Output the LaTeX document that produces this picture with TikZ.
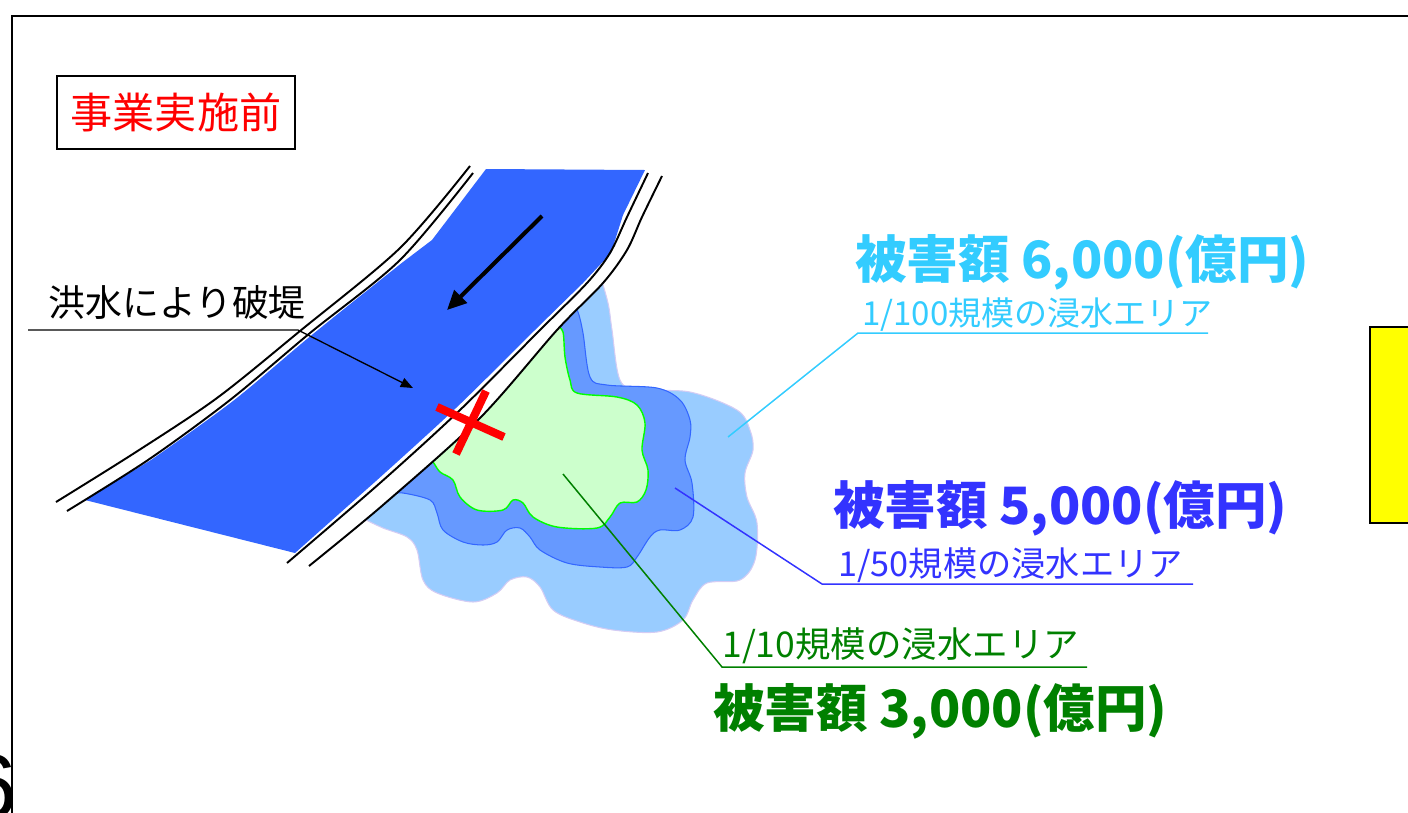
\documentclass[tikz,border=0pt]{standalone}
\usepackage{fontspec}
\setmainfont{Noto Sans CJK JP}
\newfontfamily\numfont{Liberation Sans}
\usetikzlibrary{arrows.meta}

\definecolor{riverblue}{HTML}{3366FF}
\definecolor{floodlight}{HTML}{99CCFF}
\definecolor{floodlightedge}{HTML}{D4CCF4}
\definecolor{floodmid}{HTML}{6699FF}
\definecolor{floodmidedge}{HTML}{3366FF}
\definecolor{floodgreen}{HTML}{CCFFCC}
\definecolor{floodgreenedge}{HTML}{00FF00}
\definecolor{txtcyan}{HTML}{33CCFF}
\definecolor{txtblue}{HTML}{3333FF}
\definecolor{txtgreen}{HTML}{008000}
\definecolor{panelyellow}{HTML}{FFFF00}

\newcommand\dmgfont{\fontsize{29.3}{35}\selectfont\bfseries}
\newcommand\areafont{\fontsize{19.5}{24}\selectfont}

\begin{document}
\begin{tikzpicture}[x=0.02cm,y=-0.02cm,
  bank/.style={line width=1.1pt},
  leader/.style={line width=0.85pt},
  txt/.style={inner sep=0pt, anchor=west},
  crossbar/.style={red, line width=4.6pt}]
\useasboundingbox (0,0) rectangle (1408,812);

% page frame
\draw[line width=1.1pt] (12,830) -- (12,16) -- (1430,16);

% flooded areas, kept on the land side of the right levee
\begin{scope}
  \clip plot[smooth] coordinates {(309,566) (383,505) (480,418) (557,330) (603,283) (627,250) (642,217) (662,176)}
        -- (700,120) -- (1430,120) -- (1430,830) -- (250,830) -- (250,615) -- cycle;
  % 1/100 area
  \filldraw[fill=floodlight, draw=floodlightedge, line width=0.6pt]
    plot[smooth, tension=0.55] coordinates {(598,268) (608,303) (612,330) (620,380) (640,390) (690,392) (737,410)
      (750,430) (753,450) (745,473) (747,497) (757,523) (755,560) (740,580) (707,583) (693,600) (683,620)
      (657,632) (613,630) (580,622) (553,610) (540,587) (527,577) (510,580) (497,593) (473,602) (437,593)
      (423,580) (417,550) (407,537) (383,528) (362,518)}
    -- (330,505) -- (575,262) -- cycle;
  % 1/50 area
  \filldraw[fill=floodmid, draw=floodmidedge, line width=0.6pt]
    plot[smooth, tension=0.55] coordinates {(572,303) (578,312) (583,333) (590,377) (607,385) (657,388) (680,400)
      (690,420) (690,437) (685,460) (692,483) (693,517) (680,530) (660,530) (650,537) (637,557) (627,567)
      (600,567) (567,563) (540,550) (530,537) (520,528) (507,530) (497,542) (483,545) (463,542) (443,530)
      (437,513) (430,500) (403,493) (392,494)}
    -- (375,490) -- (560,295) -- cycle;
  % 1/10 area
  \filldraw[fill=floodgreen, draw=floodgreenedge, line width=0.8pt]
    plot[smooth, tension=0.55] coordinates {(557,326) (563,332) (565,357) (570,380) (577,393) (617,397) (637,405)
      (645,423) (642,450) (648,470) (646,490) (637,502) (620,503) (610,517) (597,528) (557,527) (533,517)
      (523,503) (513,500) (503,510) (477,510) (460,497) (453,480) (440,472) (433,462) (427,458)}
    -- (415,455) -- (548,320) -- cycle;
\end{scope}

% river water
\fill[riverblue] (486,169) -- (645,170) -- (623,215) -- (611,253)
  -- plot[smooth] coordinates {(583,283) (536,329) (456,408) (376,481)}
  -- (295,553) -- (85,500)
  -- plot[smooth] coordinates {(151,460) (233,401) (313,334) (403,262)}
  -- (432,240) -- cycle;

% levees (double lines on both banks)
\draw[bank] plot[smooth] coordinates {(56,502) (136,452) (217,398) (300,331) (400,248) (470,166)};
\draw[bank] plot[smooth] coordinates {(67,511) (148,460) (230,400) (310,333) (400,260) (473,173)};
\draw[bank] plot[smooth] coordinates {(287,563) (380,483) (460,410) (540,330) (587,283) (610,253) (627,217) (648,173)};
\draw[bank] plot[smooth] coordinates {(309,566) (383,505) (480,418) (557,330) (603,283) (627,250) (642,217) (662,176)};

% breach mark
\coordinate (xa1) at (437,407); \coordinate (xa2) at (504,437);
\coordinate (xb1) at (486,391); \coordinate (xb2) at (456,454);
\draw[crossbar] (xa1) -- (xa2);
\draw[crossbar] (xb1) -- (xb2);

% flow direction
\coordinate (flowA) at (542,216);
\coordinate (flowB) at (447,310);
\draw[line width=2.3pt, -{Triangle[length=11pt,width=10pt]}] (flowA) -- (flowB);

% breach label and its leader
\node[txt, font=\fontsize{21}{25}\selectfont] (breach) at (48,302) {洪水により破堤};
\coordinate (brA) at (28,330);
\coordinate (brB) at (298,330);
\coordinate (brC) at (413,388);
\draw[line width=0.75pt, -{Triangle[length=7pt,width=5.5pt]}] (brA) -- (brB) -- (brC);

% title box
\node[draw=black, line width=0.7pt, text=red, minimum width=4.76cm, minimum height=1.46cm,
      inner sep=0pt, font=\fontsize{24}{28}\selectfont] (title) at (176,112.5) {事業実施前};

% 1/100 label
\coordinate (cA) at (728,437);
\coordinate (cB) at (858,333);
\coordinate (cC) at (1208,333);
\draw[leader, txtcyan] (cA) -- (cB) -- (cC);
\node[txt, text=txtcyan, font=\dmgfont] (dmg100) at (855,262) {被害額 6,000(億円)};
\node[txt, text=txtcyan, font=\fontsize{18.8}{23}\selectfont] (area100) at (862,315) {1/100規模の浸水エリア};

% 1/50 label
\coordinate (bA) at (675,488);
\coordinate (bB) at (822,584);
\coordinate (bC) at (1193,584);
\draw[leader, txtblue] (bA) -- (bB) -- (bC);
\node[txt, text=txtblue, font=\dmgfont] (dmg50) at (833,508) {被害額 5,000(億円)};
\node[txt, text=txtblue, font=\areafont] (area50) at (838,565) {1/50規模の浸水エリア};

% 1/10 label
\coordinate (gA) at (563,474);
\coordinate (gB) at (722,667);
\coordinate (gC) at (1087,667);
\draw[leader, txtgreen] (gA) -- (gB) -- (gC);
\node[txt, text=txtgreen, font=\fontsize{20.2}{24}\selectfont] (area10) at (722,646) {1/10規模の浸水エリア};
\node[txt, text=txtgreen, font=\dmgfont] (dmg10) at (713,711) {被害額 3,000(億円)};

% yellow panel at the right edge
\node[draw=black, fill=panelyellow, line width=1.1pt, minimum width=1.4cm, minimum height=3.92cm,
      anchor=north west, inner sep=0pt] (panel) at (1369,326) {};

% page number
\node[anchor=north east, inner sep=0pt, font=\numfont\fontsize{52}{60}\selectfont] (pagenum) at (18,754) {6};
\end{tikzpicture}
\end{document}
